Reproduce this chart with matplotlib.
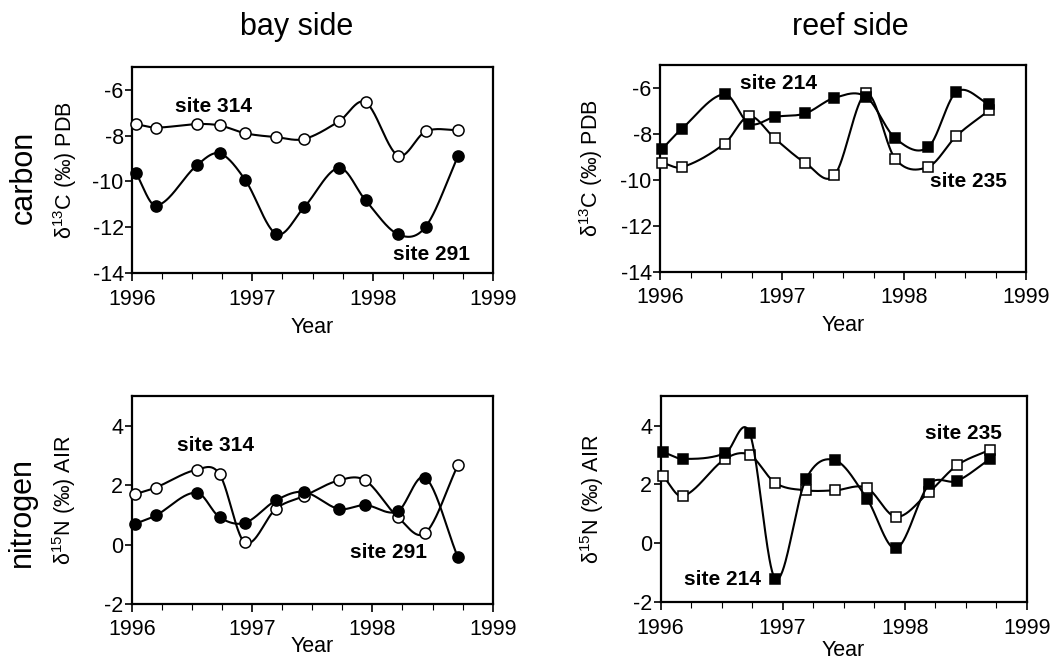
import numpy as np
from matplotlib import pyplot as plt
from matplotlib.ticker import MultipleLocator

plt.rcParams['font.family'] = ['Liberation Sans', 'DejaVu Sans']
plt.rcParams['mathtext.fontset'] = 'custom'
plt.rcParams['mathtext.rm'] = 'Liberation Sans'
plt.rcParams['mathtext.it'] = 'Liberation Sans:italic'
plt.rcParams['mathtext.bf'] = 'Liberation Sans:bold'
plt.rcParams['axes.unicode_minus'] = False

# sampling dates (decimal years)
bay_dates = [1996.03, 1996.20, 1996.54, 1996.73, 1996.94, 1997.20,
             1997.43, 1997.72, 1997.94, 1998.21, 1998.44, 1998.71]
reef_dates = [1996.02, 1996.18, 1996.53, 1996.73, 1996.94, 1997.19,
              1997.43, 1997.69, 1997.93, 1998.20, 1998.43, 1998.70]

# delta 13C (per mil, PDB)
c_314 = [-7.50, -7.65, -7.50, -7.56, -7.90, -8.07, -8.15, -7.38, -6.55, -8.87, -7.82, -7.76]
c_291 = [-9.61, -11.05, -9.29, -8.78, -9.93, -12.29, -11.12, -9.41, -10.82, -12.30, -11.97, -8.88]
c_214 = [-8.64, -7.77, -6.27, -7.55, -7.26, -7.11, -6.43, -6.39, -8.20, -8.57, -6.17, -6.71]
c_235 = [-9.26, -9.45, -8.42, -7.23, -8.20, -9.26, -9.80, -6.24, -9.10, -9.43, -8.09, -6.97]

# delta 15N (per mil, AIR)
n_314 = [1.70, 1.92, 2.52, 2.37, 0.07, 1.21, 1.63, 2.16, 2.16, 0.93, 0.39, 2.67]
n_291 = [0.70, 0.98, 1.75, 0.92, 0.73, 1.49, 1.77, 1.20, 1.33, 1.12, 2.25, -0.43]
n_214 = [3.10, 2.87, 3.06, 3.74, -1.21, 2.17, 2.82, 1.52, -0.17, 2.00, 2.12, 2.87]
n_235 = [2.28, 1.60, 2.87, 3.00, 2.05, 1.80, 1.80, 1.88, 0.90, 1.74, 2.65, 3.18]


def smooth(x, y, n=40):
    # cubic hermite through the points, catmull-rom style tangents
    x = np.asarray(x, float)
    y = np.asarray(y, float)
    m = np.zeros_like(y)
    m[1:-1] = (y[2:] - y[:-2]) / (x[2:] - x[:-2])
    m[0] = (y[1] - y[0]) / (x[1] - x[0])
    m[-1] = (y[-1] - y[-2]) / (x[-1] - x[-2])
    xs, ys = [], []
    for i in range(len(x) - 1):
        h = x[i + 1] - x[i]
        t = np.linspace(0, 1, n)
        h00 = 2 * t ** 3 - 3 * t ** 2 + 1
        h10 = t ** 3 - 2 * t ** 2 + t
        h01 = -2 * t ** 3 + 3 * t ** 2
        h11 = t ** 3 - t ** 2
        xs.append(x[i] + t * h)
        ys.append(h00 * y[i] + h10 * h * m[i] + h01 * y[i + 1] + h11 * h * m[i + 1])
    return np.concatenate(xs), np.concatenate(ys)


def draw_series(ax, x, y, marker, filled, z):
    sx, sy = smooth(x, y)
    ax.plot(sx, sy, color='black', lw=1.5, zorder=z)
    ax.plot(x, y, linestyle='none', marker=marker, ms=8 if marker == 'o' else 7.5,
            mfc='black' if filled else 'white', mec='black', mew=1.1, zorder=z + 0.5,
            clip_on=False)


def style_axes(ax, ylim, yticks, ylabel, ylab_x, xlab_y):
    ax.set_xlim(1996, 1999)
    ax.set_ylim(*ylim)
    ax.set_xticks([1996, 1997, 1998, 1999])
    ax.xaxis.set_minor_locator(MultipleLocator(0.25))
    ax.set_yticks(yticks)
    ax.tick_params(axis='both', which='major', direction='out', labelsize=15.5,
                   length=5, width=1.2, top=False, right=False)
    ax.tick_params(axis='x', which='major', pad=5, length=6)
    ax.tick_params(axis='y', which='major', pad=1)
    ax.tick_params(axis='x', which='minor', direction='out', length=4, width=0.8,
                   top=False)
    for s in ax.spines.values():
        s.set_linewidth(1.6)
    ax.set_xlabel('Year', fontsize=15.5)
    ax.xaxis.set_label_coords(0.5, xlab_y)
    ax.set_ylabel(ylabel, fontsize=15.5)
    ax.yaxis.set_label_coords(ylab_x, 0.5)


fig = plt.figure(figsize=(10.62, 6.63), dpi=100)

ax1 = fig.add_axes([0.1243, 0.5878, 0.3400, 0.3116])
ax2 = fig.add_axes([0.6215, 0.5902, 0.3446, 0.3118])
ax3 = fig.add_axes([0.1240, 0.0890, 0.3400, 0.3137])
ax4 = fig.add_axes([0.6221, 0.0916, 0.3446, 0.3110])

c_label = r'δ$^{13}$C (‰) PDB'
n_label = r'δ$^{15}$N (‰) AIR'

# carbon, bay side
draw_series(ax1, bay_dates, c_314, 'o', False, 3)
draw_series(ax1, bay_dates, c_291, 'o', True, 3)
style_axes(ax1, (-14, -5), [-14, -12, -10, -8, -6], c_label, -0.148, -0.21)
ax1.text(1996.68, -6.73, 'site 314', fontsize=15, fontweight='bold', ha='center', va='center')
ax1.text(1998.49, -13.2, 'site 291', fontsize=15, fontweight='bold', ha='center', va='center')

# carbon, reef side
draw_series(ax2, reef_dates, c_235, 's', False, 3)
draw_series(ax2, reef_dates, c_214, 's', True, 4)
style_axes(ax2, (-14, -5), [-14, -12, -10, -8, -6], c_label, -0.150, -0.21)
ax2.text(1996.97, -5.81, 'site 214', fontsize=15, fontweight='bold', ha='center', va='center')
ax2.text(1998.53, -10.09, 'site 235', fontsize=15, fontweight='bold', ha='center', va='center')

# nitrogen, bay side
draw_series(ax3, bay_dates, n_314, 'o', False, 3)
draw_series(ax3, bay_dates, n_291, 'o', True, 4)
style_axes(ax3, (-2, 5), [-2, 0, 2, 4], n_label, -0.148, -0.155)
ax3.text(1996.70, 3.35, 'site 314', fontsize=15, fontweight='bold', ha='center', va='center')
ax3.text(1998.13, -0.26, 'site 291', fontsize=15, fontweight='bold', ha='center', va='center')

# nitrogen, reef side
draw_series(ax4, reef_dates, n_235, 's', False, 3)
draw_series(ax4, reef_dates, n_214, 's', True, 4)
style_axes(ax4, (-2, 5), [-2, 0, 2, 4], n_label, -0.150, -0.185)
ax4.text(1998.48, 3.74, 'site 235', fontsize=15, fontweight='bold', ha='center', va='center')
ax4.text(1996.51, -1.22, 'site 214', fontsize=15, fontweight='bold', ha='center', va='center')

fig.text(296.7 / 1062, 1 - 27 / 663, 'bay side', fontsize=22, ha='center', va='center')
fig.text(850 / 1062, 1 - 27 / 663, 'reef side', fontsize=22, ha='center', va='center')
fig.text(24 / 1062, 1 - 177 / 663, 'carbon', fontsize=22, rotation=90, ha='center', va='center')
fig.text(22 / 1062, 1 - 512 / 663, 'nitrogen', fontsize=22, rotation=90, ha='center', va='center')

fig.savefig('out.png', dpi=100)
